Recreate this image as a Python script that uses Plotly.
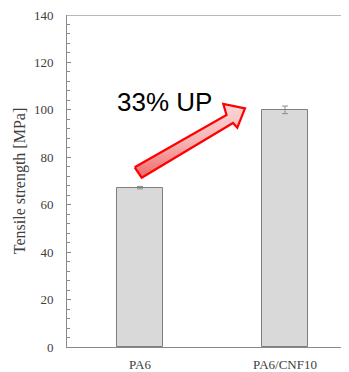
import plotly.graph_objects as go

categories = ["PA6", "PA6/CNF10"]
strength = [67.2, 100.0]
strength_err = [0.5, 1.6]
y_ticks = [0, 20, 40, 60, 80, 100, 120, 140]
annotation_text = "33% UP"

# page body has an 8px default margin; compensate so the plot sits where the reference has it
OFF = 8
W, H = 349 - OFF, 372 - OFF
L, T, B = 67 - OFF, 15 - OFF, 25
X0, XSTEP = 140 - OFF, 145  # pixel (in figure) of category 0, px per category
xr = [(L - X0) / XSTEP, (W - X0) / XSTEP]
yr = [0, 140]
ph = H - T - B

def px2d(px, py):
    # px, py are window pixels of the reference picture
    return (px - OFF - X0) / XSTEP, (H - B - (py - OFF)) / ph * (yr[1] - yr[0])

fig = go.Figure()
fig.add_trace(go.Bar(
    x=[0, 1], y=strength, width=46 / XSTEP,
    marker=dict(color="#d9d9d9", line=dict(color="#7f7f7f", width=1)),
    error_y=dict(type="data", array=strength_err, color="#8c8c8c", thickness=1, width=3),
    showlegend=False, hoverinfo="skip",
))

# block arrow outline (reference pixel positions converted to data coordinates)
arrow_px = [(134.7, 167.3), (226.5, 115.0), (223.3, 104.0), (245.0, 108.3),
            (237.3, 127.7), (233.0, 123.0), (141.7, 177.7), (134.7, 167.3)]
ax_, ay_ = zip(*[px2d(*p) for p in arrow_px])
fig.add_trace(go.Scatter(
    x=list(ax_), y=list(ay_), mode="lines", fill="toself",
    line=dict(color="#ff0000", width=2.2),
    fillgradient=dict(type="vertical",
                      colorscale=[[0, "#f06a6a"], [0.5, "#f7b5b5"], [1, "#fbd6d6"]]),
    showlegend=False, hoverinfo="skip",
))

tx, ty = px2d(164, 102)
fig.add_annotation(x=tx, y=ty, text=annotation_text, showarrow=False,
                   font=dict(family="Liberation Sans, Arial", size=26, color="#000000"))

# top border line
fig.add_shape(type="line", xref="paper", yref="y", x0=0, x1=1, y0=yr[1], y1=yr[1],
              line=dict(color="#a0a0a0", width=1.5))

fig.update_layout(
    width=W, height=H,
    margin=dict(l=L, r=0, t=T, b=B, autoexpand=False),
    paper_bgcolor="white", plot_bgcolor="white",
    font=dict(family="Liberation Serif", size=13, color="#404040"),
    bargap=0,
)
fig.update_xaxes(
    range=xr, tickvals=[0, 1], ticktext=categories, showgrid=False, zeroline=False,
    showline=True, linecolor="#898989", linewidth=1, ticks="", automargin=False,
    ticklabelstandoff=5, ticklabeloverflow="allow",
    tickfont=dict(family="Liberation Serif", size=13, color="#404040"), fixedrange=True,
)
fig.update_yaxes(
    range=yr, tickvals=y_ticks, showgrid=False, zeroline=False,
    showline=True, linecolor="#898989", linewidth=1, automargin=False,
    ticks="inside", ticklen=4, tickcolor="#898989", ticklabelstandoff=10,
    ticklabeloverflow="allow",
    minor=dict(dtick=4, ticks="inside", ticklen=3, tickcolor="#898989"),
    title=dict(text="Tensile strength [MPa]",
               font=dict(family="Liberation Serif", size=16, color="#404040"), standoff=4),
    tickfont=dict(family="Liberation Serif", size=13, color="#404040"), fixedrange=True,
)

fig.write_html("out.html")
